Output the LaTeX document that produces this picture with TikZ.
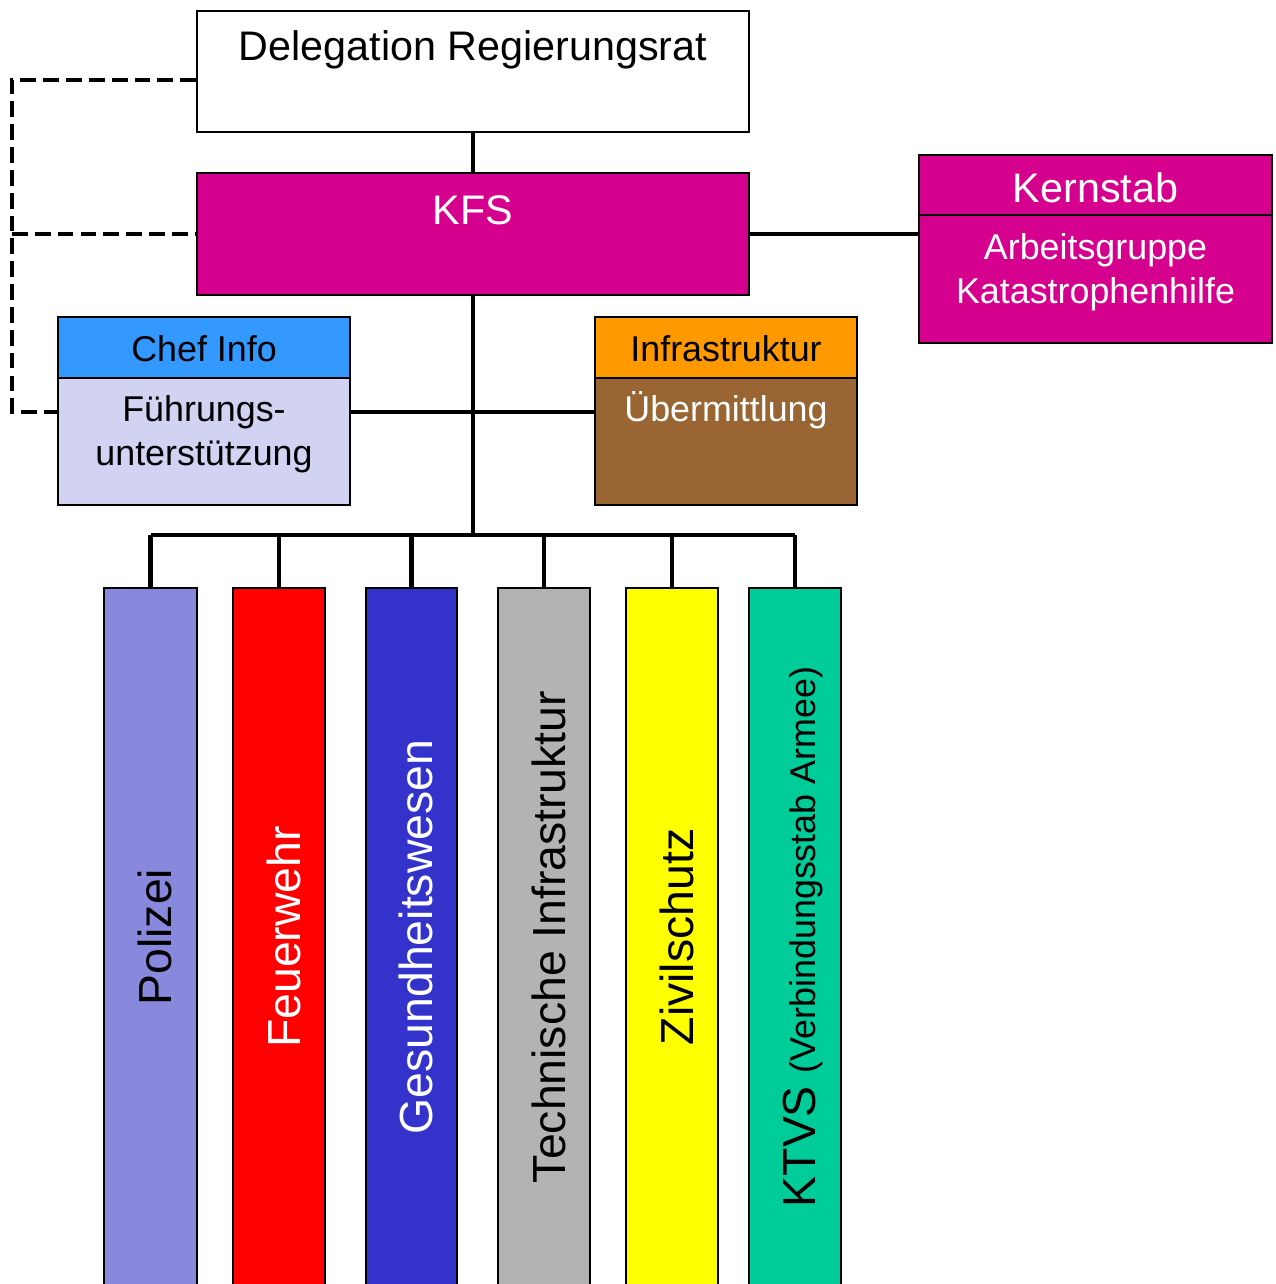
\documentclass[tikz,border=0pt]{standalone}
\usepackage{fontspec}
\setmainfont{Liberation Sans}
\usetikzlibrary{positioning,calc,fit}

\definecolor{kfsmag}{RGB}{214,0,143}
\definecolor{chefblue}{RGB}{51,153,255}
\definecolor{chefbody}{RGB}{210,210,242}
\definecolor{infraorange}{RGB}{255,153,0}
\definecolor{infrabrown}{RGB}{153,102,51}
\definecolor{polcol}{RGB}{136,136,221}
\definecolor{fwcol}{RGB}{255,0,0}
\definecolor{gwcol}{RGB}{51,51,204}
\definecolor{techcol}{RGB}{179,179,179}
\definecolor{zivcol}{RGB}{255,255,0}
\definecolor{ktvscol}{RGB}{0,204,153}

\begin{document}
\begin{tikzpicture}[
		x=0.02cm,y=-0.02cm,
		box/.style={draw=black,line width=1pt,inner sep=0pt},
		conn/.style={line width=2.6pt},
		dashconn/.style={line width=2.1pt,dash pattern=on 9pt off 4pt},
		big/.style={font=\fontsize{23.5}{28}\selectfont,inner sep=0pt,anchor=base},
		lab/.style={font=\fontsize{20.4}{24.8}\selectfont,inner sep=0pt,align=center,anchor=base},
		coltxt/.style={font=\fontsize{26.4}{30}\selectfont,inner sep=0pt,rotate=90,anchor=base}
		]
		
		\clip (0,0) rectangle (1275,1284);
		
		% --- top boxes
		\node[box,fit={(197,11) (749,132)}] (deleg) {};
		\node[box,fill=kfsmag,fit={(197,173) (749,295)}] (kfs) {};
		\node[box,fill=kfsmag,fit={(919,155) (1272,215)}] (kernHd) {};
		\node[box,fill=kfsmag,fit={(919,215) (1272,343)}] (kernBody) {};
		
		\node[big] (delegT) at ($(deleg.north)+(0,50)$) {Delegation Regierungsrat};
		\node[big,text=white] (kfsT) at ($(kfs.north)+(0,52)$) {KFS};
		\node[big,text=white] (kernT) at ($(kernHd.north)+(0,48)$) {Kernstab};
		% base of a two-line node sits on its last line
		\node[lab,text=white] (kernB) at ($(kernBody.north)+(0,89)$) {Arbeitsgruppe\\Katastrophenhilfe};
		
		% --- staff boxes
		\node[box,fill=chefblue,fit={(58,317) (350,378)}] (chefHd) {};
		\node[box,fill=chefbody,fit={(58,378) (350,505)}] (chefBody) {};
		\node[box,fill=infraorange,fit={(595,317) (857,378)}] (infraHd) {};
		\node[box,fill=infrabrown,fit={(595,378) (857,505)}] (infraBody) {};
		
		\node[lab] (chefT) at ($(chefHd.north)+(0,45)$) {Chef Info};
		\node[lab] (chefB) at ($(chefBody.north)+(0,88)$) {Führungs-\\unterstützung};
		\node[lab] (infraT) at ($(infraHd.north)+(0,45)$) {Infrastruktur};
		\node[lab,text=white] (infraB) at ($(infraBody.north)+(0,44)$) {Übermittlung};
		
		% --- columns
		\node[box,fill=polcol,fit={(104,588) (197,1320)}] (pol) {};
		\node[box,fill=fwcol,fit={(233,588) (325,1320)}] (fw) {};
		\node[box,fill=gwcol,fit={(366,588) (457,1320)}] (gw) {};
		\node[box,fill=techcol,fit={(498,588) (590,1320)}] (tech) {};
		\node[box,fill=zivcol,fit={(626,588) (718,1320)}] (ziv) {};
		\node[box,fill=ktvscol,fit={(749,588) (841,1320)}] (ktvs) {};
		
		\coordinate (txtLevel) at (0,937);
		\node[coltxt] (polT) at ($(pol.north |- txtLevel)+(21,0)$) {Polizei};
		\node[coltxt,text=white] (fwT) at ($(fw.north |- txtLevel)+(21,0)$) {Feuerwehr};
		\node[coltxt,text=white] (gwT) at ($(gw.north |- txtLevel)+(21,0)$) {Gesundheitswesen};
		\node[coltxt] (techT) at ($(tech.north |- txtLevel)+(21,0)$) {Technische Infrastruktur};
		\node[coltxt] (zivT) at ($(ziv.north |- txtLevel)+(21,0)$) {Zivilschutz};
		\node[coltxt] (ktvsT) at ($(ktvs.north |- txtLevel)+(20,0)$) {KTVS {\fontsize{20.4}{24}\selectfont (Verbindungsstab Armee)}};
		
		% --- connectors
		\coordinate (mid) at (473,412);
		\coordinate (bus) at (473,535);
		\draw[conn] (deleg.south) -- (kfs.north);
		\draw[conn] (kfs.east) -- (kfs.east -| kernBody.west);
		\draw[conn] (kfs.south) -- (bus);
		\draw[conn] (mid -| chefBody.east) -- (mid -| infraBody.west);
		\draw[conn] (pol.north |- bus) -- (ktvs.north |- bus);
		\foreach \c in {pol,fw,gw,tech,ziv,ktvs}
		\draw[conn] (\c.north) -- (\c.north |- bus);
		
		% --- dashed links on the left
		\coordinate (dashL) at (12,80);
		\draw[dashconn] (deleg.west |- dashL) -- (dashL) -- (dashL |- mid) -- (mid -| chefBody.west);
		\draw[dashconn] (dashL |- kfs.west) -- (kfs.west);
		
	\end{tikzpicture}
\end{document}
